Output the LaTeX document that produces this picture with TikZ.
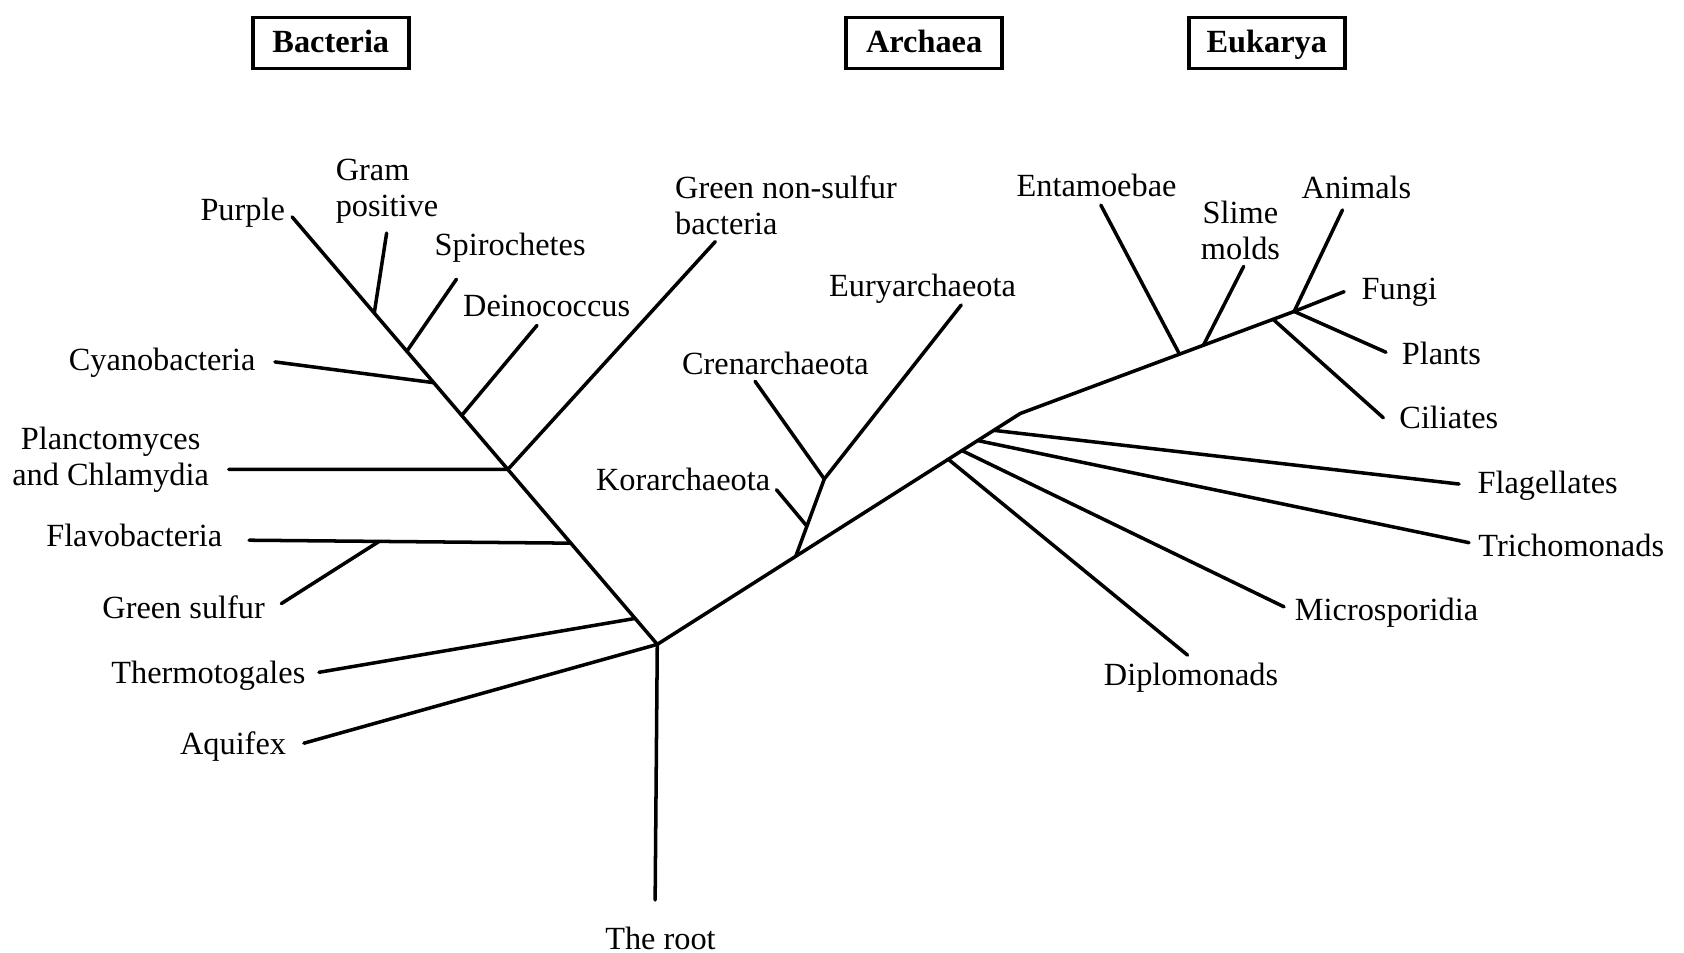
\documentclass[tikz,border=0pt]{standalone}
\usepackage{fontspec}
\setmainfont{Liberation Serif}
\usetikzlibrary{calc}
\begin{document}
\begin{tikzpicture}[x=0.01074cm,y=-0.01074cm,
  br/.style={line width=1pt, line cap=round, line join=round},
  lab/.style={font=\fontsize{9.2}{10.2}\selectfont, inner sep=0pt, text height=1.55ex, text depth=0.45ex, yshift=-0.02cm},
  labm/.style={font=\fontsize{9.2}{10.2}\selectfont, inner sep=0pt, yshift=-0.02cm},
  domainbox/.style={draw, line width=1.1pt, font=\bfseries\fontsize{9.2}{10.2}\selectfont, minimum width=1.56cm, minimum height=0.51cm, inner sep=0pt, text height=1.6ex, text depth=0.45ex}]
\useasboundingbox (0,0) rectangle (1568,887);

% domain boxes
\node[domainbox] (bact) at (308,40) {Bacteria};
\node[domainbox] (arch) at (860.5,40) {Archaea};
\node[domainbox] (euk) at (1179.5,40) {Eukarya};

% ---------- Bacteria ----------
\coordinate (R) at (612,600);
\coordinate (root) at (610,838);
\coordinate (Ptip) at (272,202);
\coordinate (jTh) at ($(R)!(590,577)!(Ptip)$);
\coordinate (jFl) at ($(R)!(530,507)!(Ptip)$);
\coordinate (jPl) at ($(R)!(473,437)!(Ptip)$);
\coordinate (jDe) at ($(R)!(432,385)!(Ptip)$);
\coordinate (jCy) at ($(R)!(403,357)!(Ptip)$);
\coordinate (jSp) at ($(R)!(380,326)!(Ptip)$);
\coordinate (jGp) at ($(R)!(349,291)!(Ptip)$);
\coordinate (aqE) at (283,692);
\coordinate (thE) at (297,626);
\coordinate (flE) at (232,503);
\coordinate (jGs) at ($(flE)!(353,505)!(jFl)$);
\coordinate (gsE) at (262,562);
\coordinate (plE) at (213,437);
\coordinate (gnsE) at (666,225);
\coordinate (cyE) at (256,337);
\coordinate (deE) at (500,303);
\coordinate (spE) at (425,260);
\coordinate (gpE) at (360,217);

\draw[br] (root) -- (R);
\draw[br] (R) -- (Ptip);
\draw[br] (R) -- (aqE);
\draw[br] (jTh) -- (thE);
\draw[br] (jFl) -- (flE);
\draw[br] (jGs) -- (gsE);
\draw[br] (jPl) -- (plE);
\draw[br] (jPl) -- (gnsE);
\draw[br] (jCy) -- (cyE);
\draw[br] (jDe) -- (deE);
\draw[br] (jSp) -- (spE);
\draw[br] (jGp) -- (gpE);

% ---------- Archaea ----------
\coordinate (E) at (950,385);
\coordinate (jA) at ($(R)!(741,518)!(E)$);
\coordinate (jCE) at (767.5,446);
\coordinate (jK) at ($(jA)!0.39!(jCE)$);
\coordinate (korE) at (723,456);
\coordinate (crenE) at (703,355);
\coordinate (euryE) at (895,284);
\draw[br] (R) -- (E);
\draw[br] (jA) -- (jCE);
\draw[br] (jK) -- (korE);
\draw[br] (jCE) -- (crenE);
\draw[br] (jCE) -- (euryE);

% ---------- Eukarya ----------
\coordinate (jD) at ($(R)!(884.5,430)!(E)$);
\coordinate (jM) at ($(R)!(897,421.5)!(E)$);
\coordinate (jT) at ($(R)!(911.5,412)!(E)$);
\coordinate (jF) at ($(R)!(926.5,402.5)!(E)$);
\coordinate (dipE) at (1105.7,610);
\coordinate (micE) at (1195.5,565);
\coordinate (triE) at (1367.8,505.3);
\coordinate (flaE) at (1358.5,450.7);
\draw[br] (jD) -- (dipE);
\draw[br] (jM) -- (micE);
\draw[br] (jT) -- (triE);
\draw[br] (jF) -- (flaE);

\coordinate (Fu) at (1205,290);
\coordinate (jEn) at ($(E)!(1098,329)!(Fu)$);
\coordinate (jSl) at ($(E)!(1120,320)!(Fu)$);
\coordinate (jCi) at ($(E)!(1185.3,297)!(Fu)$);
\coordinate (entE) at (1025,191);
\coordinate (slE) at (1158,248);
\coordinate (ciE) at (1288,389);
\coordinate (anE) at (1250,195.5);
\coordinate (fgE) at (1251.5,271.6);
\coordinate (ptE) at (1290.5,328);
\draw[br] (E) -- (Fu);
\draw[br] (jEn) -- (entE);
\draw[br] (jSl) -- (slE);
\draw[br] (jCi) -- (ciE);
\draw[br] (Fu) -- (anE);
\draw[br] (Fu) -- (fgE);
\draw[br] (Fu) -- (ptE);

% ---------- Labels ----------
\node[lab] (lPurple) at (226,195) {Purple};
\node[labm, align=left, anchor=west] (lGram) at (312,176.5) {Gram\\positive};
\node[lab] (lSpiro) at (475,228) {Spirochetes};
\node[lab] (lDein) at (509,285) {Deinococcus};
\node[labm, align=left, anchor=west] (lGns) at (628,189) {Green non-sulfur\\bacteria};
\node[lab] (lCyano) at (151,335) {Cyanobacteria};
\node[labm, align=center] (lPlanc) at (103,426.5) {Planctomyces\\and Chlamydia};
\node[lab] (lFlavo) at (125,499) {Flavobacteria};
\node[lab] (lGs) at (171,566) {Green sulfur};
\node[lab] (lThermo) at (194,626) {Thermotogales};
\node[lab] (lAqui) at (217,692) {Aquifex};
\node[lab] (lRoot) at (615,874) {The root};
\node[lab] (lEury) at (859,266) {Euryarchaeota};
\node[lab] (lCren) at (722,339) {Crenarchaeota};
\node[lab] (lKor) at (636,447) {Korarchaeota};
\node[lab] (lEnt) at (1021,173) {Entamoebae};
\node[labm, align=center] (lSlime) at (1155,212.5) {Slime\\molds};
\node[lab] (lAnim) at (1263,175) {Animals};
\node[lab] (lFungi) at (1303,269) {Fungi};
\node[lab] (lPlants) at (1342,329) {Plants};
\node[lab] (lCil) at (1349,389) {Ciliates};
\node[lab] (lFlag) at (1441,449) {Flagellates};
\node[lab] (lTrich) at (1463,508) {Trichomonads};
\node[lab] (lMicro) at (1291,568) {Microsporidia};
\node[lab] (lDipl) at (1109,628) {Diplomonads};
\end{tikzpicture}
\end{document}
